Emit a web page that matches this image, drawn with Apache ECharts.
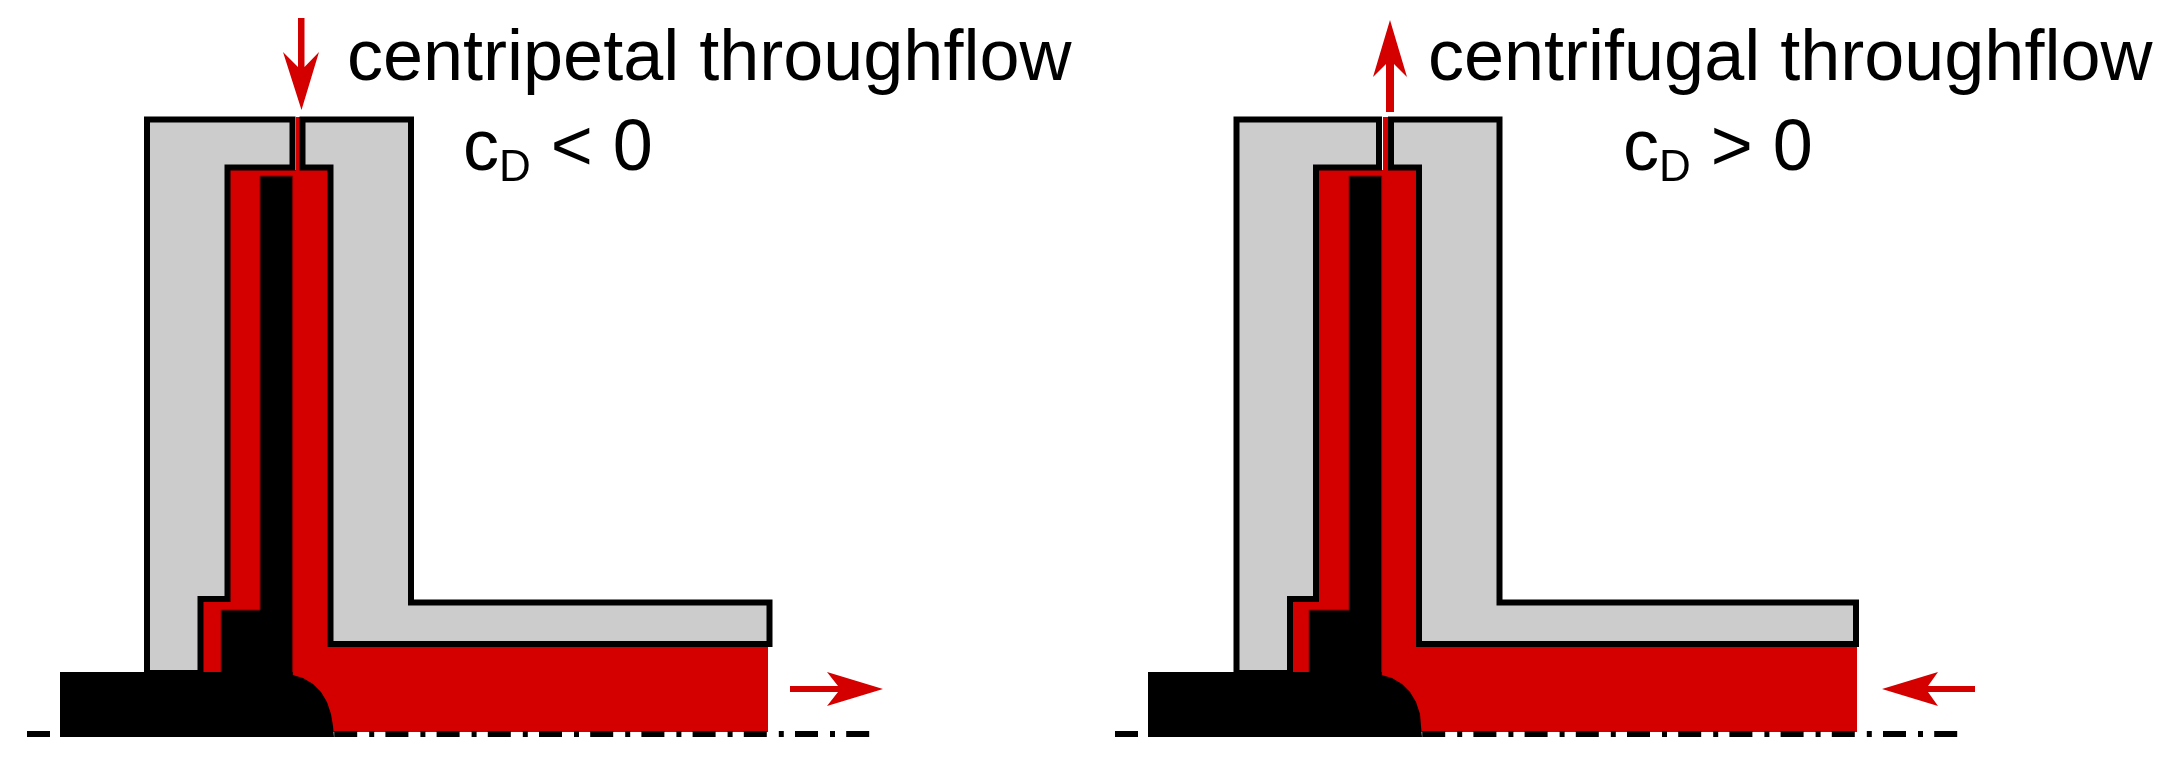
<!DOCTYPE html>
<html>
<head>
<meta charset="utf-8">
<style>
html, body { margin: 0; padding: 0; background: #fff; }
#main { width: 2168px; height: 758px; }
</style>
<script src="https://cdn.jsdelivr.net/npm/echarts@6/dist/echarts.min.js"></script>
</head>
<body>
<div id="main"></div>
<script>
// outlines, [x, y] in picture pixels
var redLeft = [[229,170],[296,170],[296,117],[300,117],[300,170],[332,170],[332,645],[768,645],[768,732],[300,732],[221,673],[202,673],[202,600],[229,600]];
var redRight = [[1317,170],[1383,170],[1383,117],[1388,117],[1388,170],[1420,170],[1420,645],[1857,645],[1857,732],[1390,732],[1309,673],[1291,673],[1291,600],[1317,600]];

var housingLeftA = [[147,119.5],[292.5,119.5],[292.5,167.5],[227.5,167.5],[227.5,599],[200.5,599],[200.5,673],[147,673]];
var housingLeftB = [[302.5,119.5],[411,119.5],[411,602.5],[769.5,602.5],[769.5,644],[330.5,644],[330.5,167.5],[302.5,167.5]];
var housingRightA = [[1236.5,119.5],[1379,119.5],[1379,167.5],[1316,167.5],[1316,599],[1290,599],[1290,673],[1236.5,673]];
var housingRightB = [[1391,119.5],[1499.5,119.5],[1499.5,602.5],[1856,602.5],[1856,644],[1419,644],[1419,167.5],[1391,167.5]];

var discLeft = [[260,176],[292.7,176],[292.7,680],[221,680],[221,610],[260,610]];
var discRight = [[1349,176],[1381.7,176],[1381.7,680],[1309,680],[1309,610],[1349,610]];
var shaftLeft = [[292.7,675],[303,678],[313,684],[321,692],[327,702],[331,714],[333,726],[334,737],[60,737],[60,672],[292.7,672]];
var shaftRight = [[1381.7,675],[1392,678],[1402,684],[1410,692],[1416,702],[1420,714],[1421,726],[1422,737],[1148,737],[1148,672],[1381.7,672]];

var arrowTopLeft = [[298,18],[304.5,18],[304.5,67],[319,52],[301.5,110],[283,52],[298,67]];
var arrowTopRight = [[1390,20],[1407,77],[1394,64],[1394,112],[1386,112],[1386,64],[1373,77]];
var arrowSideLeft = [[790,686],[838,686],[827,672],[883,689],[827,706],[838,692],[790,692]];
var arrowSideRight = [[1975,686],[1928,686],[1938,672],[1882,689],[1938,706],[1928,692],[1975,692]];

var axisLeft = [[27,734],[870,734]];
var axisRight = [[1115,734],[1958,734]];

var headings = [
    [347, 60, 'centripetal throughflow'],
    [1428, 60, 'centrifugal throughflow']
];
var coeffs = [
    [463, 146, '{c|c}{d|D}{c| < 0}'],
    [1623, 146, '{c|c}{d|D}{c| > 0}']
];

var RED = '#d40000', GREY = '#cccccc', BLACK = '#000000';

function shape(points, fill, stroke, width) {
    return {
        type: 'custom',
        coordinateSystem: 'cartesian2d',
        silent: true,
        data: points,
        renderItem: function (params, api) {
            if (params.dataIndex !== 0) return null;
            return {
                type: 'polygon',
                shape: { points: points.map(function (p) { return api.coord(p); }) },
                style: { fill: fill, stroke: stroke, lineWidth: width, lineJoin: 'miter' }
            };
        }
    };
}

function axisLine(points) {
    return {
        type: 'line',
        data: points,
        showSymbol: false,
        silent: true,
        z: 5,
        lineStyle: { color: BLACK, width: 6, type: [23, 12, 5, 11.2], cap: 'butt' }
    };
}

function textSeries(items, rich) {
    return {
        type: 'scatter',
        symbolSize: 0,
        silent: true,
        z: 6,
        itemStyle: { color: BLACK },
        data: items.map(function (t) { return { value: [t[0], t[1]], text: t[2] }; }),
        label: {
            show: true,
            position: 'right',
            distance: 0,
            color: BLACK,
            opacity: 1,
            fontFamily: 'Liberation Sans',
            fontSize: 72,
            rich: rich,
            formatter: function (p) { return p.data.text; }
        }
    };
}

var echart = echarts.init(document.getElementById('main'));
var option = {
    animation: false,
    backgroundColor: '#ffffff',
    grid: { left: 0, right: 0, top: 0, bottom: 0 },
    xAxis: { type: 'value', min: 0, max: 2168, show: false },
    yAxis: { type: 'value', min: 0, max: 758, inverse: true, show: false },
    series: [
        shape(redLeft, RED, null, 0),
        shape(redRight, RED, null, 0),
        shape(housingLeftA, GREY, BLACK, 6),
        shape(housingLeftB, GREY, BLACK, 6),
        shape(housingRightA, GREY, BLACK, 6),
        shape(housingRightB, GREY, BLACK, 6),
        shape(discLeft, BLACK, '#8a0000', 1),
        shape(discRight, BLACK, '#8a0000', 1),
        shape(shaftLeft, BLACK, null, 0),
        shape(shaftRight, BLACK, null, 0),
        shape(arrowTopLeft, RED, null, 0),
        shape(arrowTopRight, RED, null, 0),
        shape(arrowSideLeft, RED, null, 0),
        shape(arrowSideRight, RED, null, 0),
        axisLine(axisLeft),
        axisLine(axisRight),
        textSeries(headings),
        textSeries(coeffs, {
            c: { fontFamily: 'Liberation Sans', fontSize: 72, color: BLACK, lineHeight: 90, verticalAlign: 'bottom', padding: [0, 0, 5, 0] },
            d: { fontFamily: 'Liberation Sans', fontSize: 44, color: BLACK, lineHeight: 90, verticalAlign: 'bottom' }
        })
    ]
};
echart.setOption(option);
</script>
</body>
</html>
